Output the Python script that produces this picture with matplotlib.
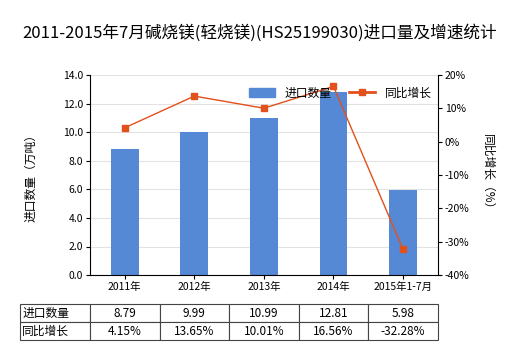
import matplotlib
matplotlib.use("Agg")
import matplotlib.pyplot as plt
from matplotlib.lines import Line2D
from matplotlib.patches import Patch

plt.rcParams["font.family"] = ["Noto Sans CJK SC", "DejaVu Sans"]

years = ["2011年", "2012年", "2013年", "2014年", "2015年1-7月"]
qty = [8.79, 9.99, 10.99, 12.81, 5.98]           # 万吨
growth = [4.15, 13.65, 10.01, 16.56, -32.28]     # %

BAR = "#5589D6"
LINE = "#E2501C"

fig = plt.figure(figsize=(5.2, 3.5), dpi=100)
ax = fig.add_axes([0.173, 0.214, 0.669, 0.572])
x = range(len(years))
ax.bar(x, qty, width=0.4, color=BAR, zorder=2)
ax.set_xlim(-0.5, len(years) - 0.5)
ax.set_ylim(0, 14)
ax.set_yticks([0, 2, 4, 6, 8, 10, 12, 14])
ax.set_yticklabels([f"{v:.1f}" for v in ax.get_yticks()], fontsize=7.5)
ax.set_xticks(list(x))
ax.set_xticklabels(years, fontsize=7.5)
ax.grid(axis="y", color="#E2E2E2", lw=0.8, zorder=0)
ax.tick_params(length=3, pad=2)
for s in ("top", "right"):
    ax.spines[s].set_visible(False)
ax.set_ylabel("进口数量（万吨）", fontsize=8.5, labelpad=18)

ax2 = ax.twinx()
ax2.plot(list(x), growth, "-s", color=LINE, lw=1, ms=4, zorder=3)
ax2.set_ylim(-40, 20)
ax2.set_yticks(range(-40, 21, 10))
ax2.set_yticklabels([f"{v}%" for v in range(-40, 21, 10)], fontsize=7.5)
ax2.tick_params(length=3, pad=2)
for s in ("top", "left", "bottom"):
    ax2.spines[s].set_visible(False)
ax2.set_ylabel("同比增长（%）", fontsize=8.5, rotation=-90, labelpad=18)

handles = [Patch(color=BAR), Line2D([], [], color=LINE, marker="s", ms=4, lw=2)]
ax2.legend(handles, ["进口数量", "同比增长"], loc="upper center", bbox_to_anchor=(0.72, 0.995),
           ncol=2, frameon=False, fontsize=8.5, handlelength=2.2, columnspacing=1.5)

fig.suptitle("2011-2015年7月碱烧镁(轻烧镁)(HS25199030)进口量及增速统计", y=0.93, fontsize=12)

# data table under the plot, first column holds the row names
cells = [["进口数量"] + [f"{v:.2f}" for v in qty],
         ["同比增长"] + [f"{v:.2f}%" for v in growth]]
first = 70 / 418
tbl = ax.table(cellText=cells, cellLoc="center",
               colWidths=[first] + [(1 - first) / len(years)] * len(years),
               bbox=[-0.201, -0.325, 1.201, 0.18])
tbl.auto_set_font_size(False)
tbl.set_fontsize(8.5)
for (r, c), cell in tbl.get_celld().items():
    cell.set_edgecolor("#444444")
    cell.set_linewidth(0.8)
    if c == 0:
        cell.get_text().set_ha("left")
        cell.PAD = 0.03

fig.savefig("out.png", dpi=100)
